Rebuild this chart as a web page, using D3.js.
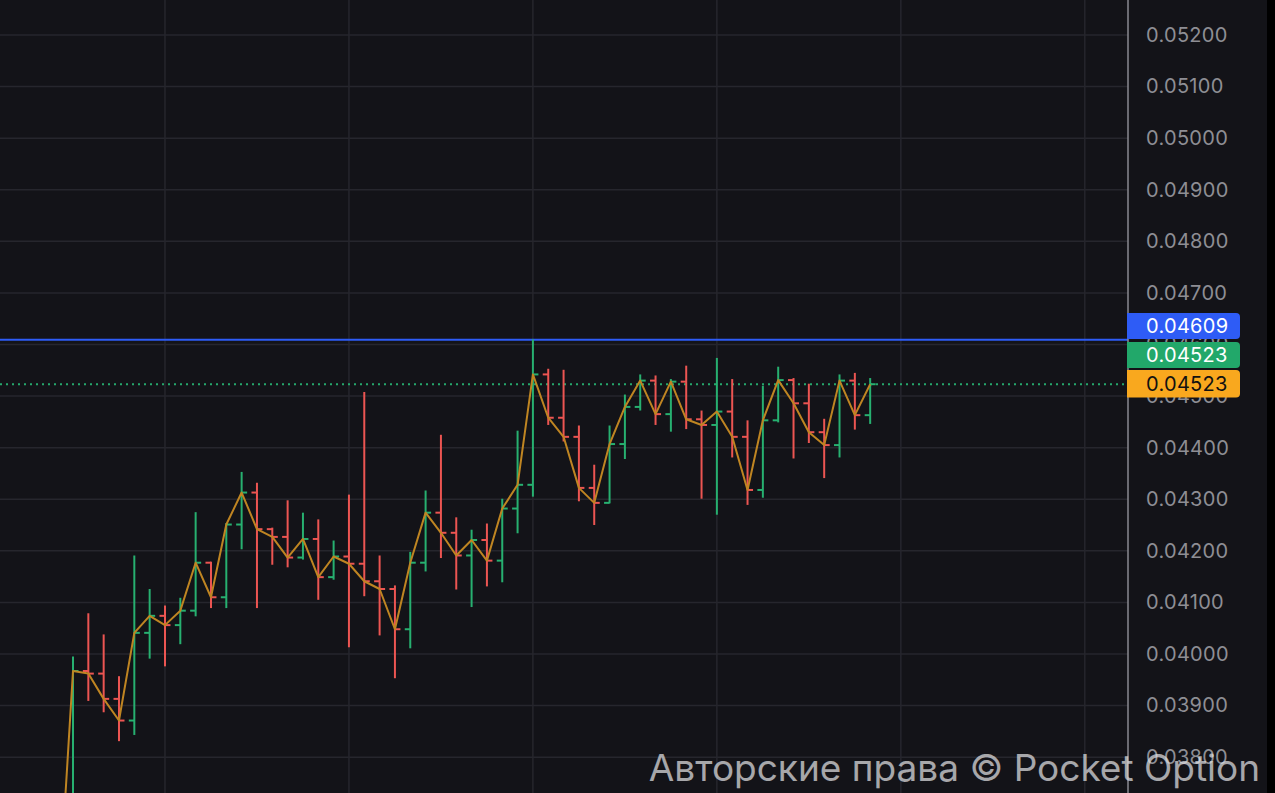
<!DOCTYPE html>
<html><head><meta charset="utf-8">
<script src="https://cdn.jsdelivr.net/npm/d3@7"></script>
<style>html,body{margin:0;padding:0;background:#131318;overflow:hidden}</style>
</head><body><svg id="c" width="1275" height="793"></svg>
<script>
// bar index (i = -1 is the bar just below the visible area)
const idx = d3.range(-1, 53);
const open = [0.03450,0.03480,0.03967,0.03962,0.03913,0.03871,0.04041,0.04074,0.04056,0.04084,0.04177,0.04110,0.04251,0.04313,0.04242,0.04227,0.04187,0.04223,0.04149,0.04189,0.04175,0.04141,0.04126,0.04048,0.04177,0.04274,0.04235,0.04191,0.04221,0.04181,0.04282,0.04328,0.04542,0.04458,0.04421,0.04322,0.04293,0.04407,0.04479,0.04530,0.04465,0.04528,0.04455,0.04444,0.04470,0.04421,0.04318,0.04453,0.04531,0.04486,0.04430,0.04405,0.04530,0.04463];
const high = [0.03520,0.03994,0.04078,0.04037,0.03956,0.04190,0.04125,0.04093,0.04108,0.04274,0.04178,0.04253,0.04352,0.04331,0.04244,0.04297,0.04273,0.04260,0.04219,0.04308,0.04507,0.04190,0.04132,0.04197,0.04316,0.04424,0.04264,0.04240,0.04252,0.04300,0.04432,0.04609,0.04552,0.04550,0.04442,0.04366,0.04442,0.04502,0.04541,0.04539,0.04532,0.04558,0.04471,0.04573,0.04532,0.04452,0.04519,0.04556,0.04534,0.04523,0.04455,0.04541,0.04544,0.04534];
const low = [0.03420,0.03460,0.03910,0.03888,0.03832,0.03844,0.03992,0.03977,0.04020,0.04074,0.04090,0.04090,0.04204,0.04090,0.04174,0.04169,0.04184,0.04106,0.04145,0.04014,0.04113,0.04037,0.03954,0.04012,0.04161,0.04187,0.04126,0.04092,0.04132,0.04140,0.04235,0.04306,0.04445,0.04413,0.04297,0.04251,0.04293,0.04379,0.04473,0.04445,0.04432,0.04437,0.04302,0.04271,0.04382,0.04290,0.04304,0.04450,0.04380,0.04410,0.04342,0.04382,0.04436,0.04447];
const close = [0.03480,0.03967,0.03962,0.03913,0.03871,0.04041,0.04074,0.04056,0.04084,0.04177,0.04110,0.04251,0.04313,0.04242,0.04227,0.04187,0.04223,0.04149,0.04189,0.04175,0.04141,0.04126,0.04048,0.04177,0.04274,0.04235,0.04191,0.04221,0.04181,0.04282,0.04328,0.04542,0.04458,0.04421,0.04322,0.04293,0.04407,0.04479,0.04530,0.04465,0.04528,0.04455,0.04444,0.04470,0.04421,0.04318,0.04453,0.04531,0.04486,0.04430,0.04405,0.04530,0.04463,0.04523];
const yTicks = [0.038,0.039,0.040,0.041,0.042,0.043,0.044,0.045,0.046,0.047,0.048,0.049,0.050,0.051,0.052];
const xTicks = [6,18,30,42,54,66];
const highLevel = 0.04609;
const lastPrice = 0.04523;
const tags = [{label:"0.04609",bg:"#2e5cf6",fg:"#ffffff"},
              {label:"0.04523",bg:"#22a86a",fg:"#ffffff"},
              {label:"0.04523",bg:"#f9a81e",fg:"#111111"}];
const watermark = "Авторские права © Pocket Option";

const W = 1275, H = 793, plotR = 1128;
const svg = d3.select("#c");
const x = d3.scaleLinear().domain([0,66]).range([73,1084.8]);
const y = d3.scaleLinear().domain([0.040,0.052]).range([654,35]);

svg.append("rect").attr("width",W).attr("height",H).attr("fill","#131318");
svg.append("rect").attr("x",1267).attr("width",8).attr("height",H).attr("fill","#000");

const plot = svg.append("g");
plot.append("defs").append("clipPath").attr("id","pc").append("rect").attr("width",plotR).attr("height",H);

// grid
const grid = plot.append("g").attr("stroke","#26262d").attr("stroke-width",1.5);
grid.selectAll("line.h").data(yTicks).join("line").attr("x1",0).attr("x2",plotR)
  .attr("y1",d=>y(d)).attr("y2",d=>y(d));
grid.selectAll("line.v").data(xTicks).join("line").attr("y1",0).attr("y2",H)
  .attr("x1",d=>x(d)).attr("x2",d=>x(d));

// axis labels
const ax = d3.axisRight(y).tickValues(yTicks).tickSize(0).tickPadding(0).tickFormat(d3.format(".5f"));
const axG = svg.append("g").attr("transform",`translate(1146,0)`).call(ax);
axG.select(".domain").remove();
axG.selectAll("text").attr("fill","#8e8e94").attr("font-family","Inter, 'Noto Sans', sans-serif").attr("font-size",20).attr("letter-spacing","0.3px");

// axis border
svg.append("line").attr("x1",plotR).attr("x2",plotR).attr("y1",0).attr("y2",H).attr("stroke","#8a8a90").attr("stroke-width",1.5);

// levels
const g = plot.append("g").attr("clip-path","url(#pc)");
g.append("line").attr("x1",0).attr("x2",plotR).attr("y1",y(highLevel)).attr("y2",y(highLevel))
  .attr("stroke","#2e5cf6").attr("stroke-width",2);
g.append("line").attr("x1",0).attr("x2",plotR).attr("y1",y(lastPrice)).attr("y2",y(lastPrice))
  .attr("stroke","#26a86c").attr("stroke-width",2).attr("stroke-dasharray","2,4");

// OHLC bars
const bars = idx.map((i,k)=>({i,o:open[k],h:high[k],l:low[k],c:close[k]}));
const green = "#27b070", red = "#ec5552";
const bg = g.selectAll("g.bar").data(bars).join("g").attr("stroke",d=>d.c>=d.o?green:red).attr("stroke-width",2);
bg.append("line").attr("x1",d=>x(d.i)).attr("x2",d=>x(d.i)).attr("y1",d=>y(d.h)-0.5).attr("y2",d=>y(d.l)+0.5);
bg.append("line").attr("x1",d=>x(d.i)-5.5).attr("x2",d=>x(d.i)).attr("y1",d=>y(d.o)).attr("y2",d=>y(d.o));
bg.append("line").attr("x1",d=>x(d.i)).attr("x2",d=>x(d.i)+5.5).attr("y1",d=>y(d.c)).attr("y2",d=>y(d.c));

// close line
const line = d3.line().x(d=>x(d.i)).y(d=>y(d.c));
g.append("path").datum(bars).attr("d",line).attr("fill","none").attr("stroke","#bf8522").attr("stroke-width",2).attr("stroke-linejoin","round");

// price tags (stacked, top/bottom in px)
const tagBox = [[313,339],[342,368],[370,397.5]];
tags.forEach((t,k)=>{
  const [t0,t1] = tagBox[k], cy = (t0+t1)/2;
  svg.append("path").attr("d",`M1127,${t0} H1236 a4,4 0 0 1 4,4 V${t1-4} a4,4 0 0 1 -4,4 H1127 Z`).attr("fill",t.bg);
  svg.append("text").attr("x",1146).attr("y",cy).attr("dy","0.35em").attr("fill",t.fg)
    .attr("font-family","Inter, 'Noto Sans', sans-serif").attr("font-size",20).attr("letter-spacing","0.3px").text(t.label);
});

// watermark
svg.append("text").attr("x",1260).attr("y",781).attr("text-anchor","end")
  .attr("font-family","Inter, Roboto, sans-serif").attr("font-size",37)
  .attr("fill","rgba(225,225,228,0.72)").text(watermark);
</script></body></html>
